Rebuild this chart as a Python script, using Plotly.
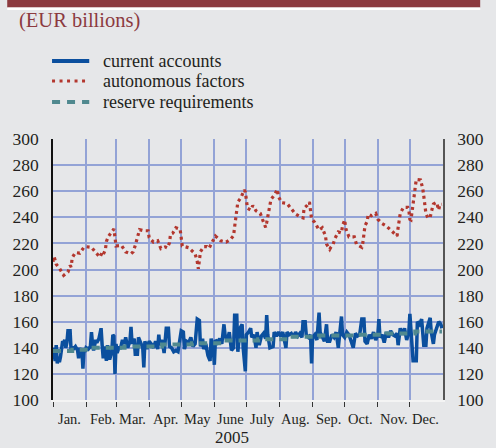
import pandas as pd
import plotly.graph_objects as go

YEAR = "2005"

# Autonomous factors (EUR billions)
af_dates = ["01-01", "01-02", "01-04", "01-07", "01-11", "01-15", "01-17", "01-18", "01-19", "01-22",
            "01-26", "01-30", "02-01", "02-06", "02-10", "02-14", "02-16", "02-17", "02-19", "02-20",
            "02-22", "02-26", "02-27", "02-28", "03-01", "03-06", "03-10", "03-15", "03-17", "03-19",
            "03-21", "03-23", "03-27", "03-31", "04-01", "04-05", "04-09", "04-12", "04-16", "04-18",
            "04-20", "04-21", "04-23", "04-26", "04-30", "05-01", "05-02", "05-08", "05-12", "05-14",
            "05-16", "05-17", "05-18", "05-19", "05-22", "05-25", "05-27", "05-30", "06-02", "06-07",
            "06-12", "06-16", "06-19", "06-20", "06-21", "06-22", "06-23", "06-26", "06-29", "06-30",
            "07-01", "07-02", "07-05", "07-07", "07-10", "07-14", "07-16", "07-19", "07-20", "07-23",
            "07-24", "07-27", "07-30", "07-31", "08-03", "08-08", "08-12", "08-16", "08-21", "08-23",
            "08-24", "08-27", "08-29", "08-30", "08-31", "09-03", "09-07", "09-10", "09-13", "09-14",
            "09-17", "09-18", "09-20", "09-22", "09-25", "09-28", "09-29", "10-01", "10-02", "10-05",
            "10-10", "10-12", "10-17", "10-18", "10-19", "10-20", "10-22", "10-23", "10-26", "10-30",
            "11-01", "11-05", "11-09", "11-14", "11-16", "11-19", "11-20", "11-21", "11-22", "11-25",
            "11-29", "11-30", "12-01", "12-02", "12-03", "12-04", "12-05", "12-06", "12-07", "12-11",
            "12-13", "12-14", "12-15", "12-16", "12-18", "12-20", "12-21", "12-23", "12-26", "12-28",
            "12-29", "12-31"]
af_values = [206, 210, 204, 201, 195.5, 198, 203, 202, 209, 213,
             212.5, 217, 217.5, 217, 213, 209.5, 213, 211.5, 215, 221.5,
             225.5, 230, 231, 224.5, 218, 218.5, 213.5, 212, 213.5, 218.5,
             224, 230.5, 229.7, 229.7, 224.5, 221, 222, 216, 217.3, 216.5,
             220.5, 227, 227.7, 232, 230.8, 224.5, 218, 216.7, 213.5, 212,
             206, 200.5, 207, 213.6, 217.5, 217.5, 216.2, 220.6, 225.7, 222,
             221, 223, 226, 232.8, 238.5, 245, 251.7, 255.2, 261, 259.4,
             253.7, 247, 245.5, 249, 245, 243, 238.5, 232.3, 236, 247.6,
             253.7, 256.8, 261.4, 255.8, 251.2, 250.6, 246.6, 242.5, 240, 239.5,
             247, 249.2, 251.7, 245.5, 238.8, 236, 230.3, 232, 225.7, 219.5,
             215.5, 217, 219, 224, 228.8, 228, 233.6, 238, 231.3, 225,
             225, 219.3, 217, 220.6, 226.7, 233.6, 236.7, 242.3, 241.2, 243,
             238.5, 235.2, 233.3, 229.7, 227.7, 225.7, 232, 238.7, 243, 247.6,
             247.6, 245.6, 238.5, 238, 243, 249.7, 256.3, 263, 269, 268.6,
             262.2, 256.3, 249.4, 243, 239.3, 240, 243.8, 250.2, 251.4, 245.6,
             249.7, 250]

# Current accounts (EUR billions)
ca_dates = ["01-01", "01-02", "01-03", "01-04", "01-05", "01-06", "01-07", "01-08", "01-09", "01-10",
            "01-11", "01-12", "01-13", "01-14", "01-15", "01-17", "01-18", "01-19", "01-20", "01-22",
            "01-24", "01-25", "01-26", "01-27", "01-28", "01-29", "01-30", "01-31",
            "02-01", "02-03", "02-05", "02-06", "02-07", "02-08", "02-10", "02-11", "02-13", "02-15",
            "02-16", "02-17", "02-18", "02-20", "02-21", "02-23", "02-25", "02-26", "02-27", "02-28",
            "03-01", "03-02", "03-04", "03-05", "03-07", "03-09", "03-10", "03-12", "03-14", "03-15",
            "03-16", "03-18", "03-19", "03-21", "03-22", "03-24", "03-26", "03-27", "03-28", "03-30",
            "04-01", "04-03", "04-05", "04-07", "04-09", "04-10", "04-11", "04-13", "04-15", "04-17",
            "04-19", "04-20", "04-22", "04-24", "04-26", "04-28",
            "05-01", "05-03", "05-04", "05-06", "05-08", "05-10", "05-12", "05-14", "05-16", "05-18",
            "05-19", "05-21", "05-22", "05-24", "05-26", "05-28", "05-29", "05-31",
            "06-01", "06-02", "06-04", "06-06", "06-08", "06-10", "06-11", "06-13", "06-15", "06-17",
            "06-19", "06-20", "06-22", "06-23", "06-25", "06-27", "06-28", "06-30",
            "07-01", "07-03", "07-05", "07-06", "07-08", "07-10", "07-11", "07-13", "07-15", "07-17",
            "07-19", "07-20", "07-21", "07-23", "07-26", "07-27", "07-29", "07-31",
            "08-02", "08-04", "08-06", "08-07", "08-08", "08-10", "08-12", "08-14", "08-16", "08-18",
            "08-20", "08-22", "08-23", "08-25", "08-26", "08-28", "08-30", "08-31",
            "09-01", "09-03", "09-05", "09-07", "09-08", "09-10", "09-12", "09-14", "09-15", "09-17",
            "09-19", "09-21", "09-23", "09-25", "09-26", "09-28", "09-29",
            "10-01", "10-03", "10-05", "10-07", "10-09", "10-11", "10-13", "10-15", "10-17", "10-19",
            "10-20", "10-22", "10-24", "10-26", "10-28", "10-30",
            "11-01", "11-02", "11-03", "11-05", "11-07", "11-09", "11-11", "11-13", "11-15", "11-17",
            "11-19", "11-20", "11-22", "11-24", "11-26", "11-28", "11-30",
            "12-01", "12-02", "12-04", "12-07", "12-08", "12-10", "12-12", "12-14", "12-16", "12-17",
            "12-19", "12-20", "12-21", "12-23", "12-24", "12-26", "12-28", "12-30", "12-31"]
ca_values = [140, 136, 130, 142, 128, 132, 129, 133, 138, 145,
             144, 146, 140, 144, 153, 153, 137, 141, 139, 141,
             138, 132, 140, 136, 139, 124, 138, 137,
             140, 139, 141, 152, 143, 138, 146, 144, 147, 155,
             142, 132, 141, 130, 142, 131, 137, 150, 149, 120,
             143, 136, 141, 139, 146, 143, 148, 140, 145, 156,
             143, 147, 135, 135, 148, 143, 140, 125, 145, 139,
             145, 143, 140, 145, 139, 150, 142, 146, 136, 155,
             155, 141, 140, 137, 138, 137,
             153, 152, 139, 145, 144, 148, 141, 143, 162, 161,
             141, 147, 139, 143, 134, 130, 147, 140,
             127, 146, 144, 147, 143, 158, 150, 145, 152, 138,
             140, 165, 165, 137, 155, 158, 140, 122,
             150, 152, 155, 148, 150, 140, 152, 142, 149, 151,
             147, 165, 150, 140, 141, 152, 149, 152,
             149, 152, 145, 140, 152, 150, 151, 148, 152, 149,
             151, 148, 160, 160, 150, 148, 150, 128,
             148, 150, 146, 167, 152, 149, 145, 158, 145, 145,
             150, 148, 152, 140, 150, 164, 150,
             148, 152, 150, 145, 140, 151, 149, 150, 162, 162,
             145, 143, 150, 147, 152, 146,
             150, 162, 148, 150, 144, 152, 148, 153, 150, 149,
             151, 142, 155, 150, 155, 146, 152,
             166, 150, 130, 130, 160, 158, 162, 142, 142, 155,
             160, 163, 152, 143, 150, 155, 160, 158, 155]

# Reserve requirements by maintenance period (start date, level)
rr_dates = ["01-01", "01-19", "02-08", "03-09", "04-13", "05-11", "06-08", "07-12", "08-10",
            "09-07", "10-12", "11-09", "12-06", "12-31"]
rr_values = [137.5, 138.5, 140, 141, 142.5, 143.5, 145.5, 146.5, 148.5,
             149.5, 150, 151, 152.5, 152.5]

month_starts = ["01-01", "02-01", "03-01", "04-01", "05-01", "06-01", "07-01", "08-01",
                "09-01", "10-01", "11-01", "12-01"]
month_labels = ["Jan.", "Feb.", "Mar.", "Apr.", "May", "June", "July", "Aug.", "Sep.",
                "Oct.", "Nov.", "Dec."]
y_ticks = [100, 120, 140, 160, 180, 200, 220, 240, 260, 280, 300]


def to_dates(md):
    return pd.to_datetime([f"{YEAR}-{d}" for d in md])


# Page geometry (pixels)
W, H = 496, 448
ML, MR, MT, MB = 48, 39, 139, 48
PW, PH = W - ML - MR, H - MT - MB


def px(x):
    return (x - ML) / PW


def py(y):
    return 1 - (y - MT) / PH


BG = "#e6e7e9"
GRID = "#93a3d6"
RED = "#b3372e"
BLUE = "#0b4f9e"
TEAL = "#50898f"
DARKRED = "#8c3a3f"
TXT = "#231f20"
SERIF = "Liberation Serif"

fig = go.Figure()

fig.add_trace(go.Scatter(
    x=to_dates(af_dates), y=af_values, mode="lines", name="autonomous factors",
    line=dict(color=RED, width=3.2, dash="3px,3.4px"), showlegend=False))
fig.add_trace(go.Scatter(
    x=to_dates(ca_dates), y=ca_values, mode="lines", name="current accounts",
    line=dict(color=BLUE, width=3.5), showlegend=False))
fig.add_trace(go.Scatter(
    x=to_dates(rr_dates), y=rr_values, mode="lines", name="reserve requirements",
    line=dict(color=TEAL, width=4, shape="hv", dash="8px,6px"), showlegend=False))
# right-hand axis carrier
fig.add_trace(go.Scatter(x=to_dates(["06-01"]), y=[None], yaxis="y2",
                         mode="lines", showlegend=False, hoverinfo="skip"))

x_start = pd.Timestamp(f"{YEAR}-01-01")
x_end = pd.Timestamp(f"{YEAR}-12-31 23:59")

fig.update_layout(
    width=W, height=H,
    margin=dict(l=ML, r=MR, t=MT, b=MB),
    paper_bgcolor=BG, plot_bgcolor=BG,
    font=dict(family=SERIF, color=TXT, size=17),
    xaxis=dict(
        type="date", range=[x_start, x_end],
        tickvals=to_dates(month_starts), ticktext=[""] * len(month_starts),
        showgrid=True, gridcolor=GRID, gridwidth=1.6,
        showline=True, linecolor="#f4f4f4", linewidth=2,
        ticks="outside", ticklen=5, tickcolor="#333333", tickwidth=1.2,
        zeroline=False,
    ),
    yaxis=dict(
        range=[100, 300], tickvals=y_ticks, showgrid=True, gridcolor=GRID, gridwidth=1.6,
        showline=True, linecolor="#111111", linewidth=1.5, ticks="", zeroline=False,
        tickfont=dict(size=17.5, color=TXT, family=SERIF), ticklabelstandoff=9,
    ),
    yaxis2=dict(
        range=[100, 300], tickvals=y_ticks, overlaying="y", side="right",
        showgrid=False, showline=True, linecolor="#555555", linewidth=1.5,
        ticks="", zeroline=False,
        tickfont=dict(size=17.5, color=TXT, family=SERIF), ticklabelstandoff=9,
    ),
    showlegend=False,
)

# month names centred in each month, year underneath
mid_month = [pd.Timestamp(f"{YEAR}-{d}") + pd.Timedelta(days=15) for d in month_starts]
for m, lab in zip(mid_month, month_labels):
    fig.add_annotation(x=m, y=py(419), xref="x", yref="paper", text=lab, showarrow=False,
                       font=dict(size=14.5, color=TXT, family=SERIF), yanchor="middle")
fig.add_annotation(x=px(236), y=py(437.5), xref="paper", yref="paper", text=YEAR,
                   showarrow=False, font=dict(size=17, color=TXT, family=SERIF),
                   yanchor="middle")

# header band and unit label
fig.add_shape(type="rect", xref="paper", yref="paper", x0=px(0), x1=px(W), y0=py(0), y1=py(7.5),
              fillcolor=DARKRED, line=dict(width=0), layer="above")
fig.add_shape(type="rect", xref="paper", yref="paper", x0=px(0), x1=px(W), y0=py(7.5), y1=py(10),
              fillcolor="#ffffff", line=dict(width=0), layer="above")
fig.add_annotation(x=px(10), y=py(21), xref="paper", yref="paper", text="(EUR billions)",
                   showarrow=False, xanchor="left", yanchor="middle",
                   font=dict(size=20.5, color=DARKRED, family=SERIF))

# legend drawn as line samples with labels
legend_rows = [("current accounts", 61, dict(color=BLUE, width=4)),
               ("autonomous factors", 81, dict(color=RED, width=3.2, dash="3px,4.5px")),
               ("reserve requirements", 102, dict(color=TEAL, width=4, dash="8px,7px"))]
for label, yy, ln in legend_rows:
    fig.add_shape(type="line", xref="paper", yref="paper", x0=px(47), x1=px(86),
                  y0=py(yy), y1=py(yy), line=ln)
    fig.add_annotation(x=px(98), y=py(yy), xref="paper", yref="paper", text=label,
                       showarrow=False, xanchor="left", yanchor="middle",
                       font=dict(size=18, color=TXT, family=SERIF))

fig.write_html("out.html")
